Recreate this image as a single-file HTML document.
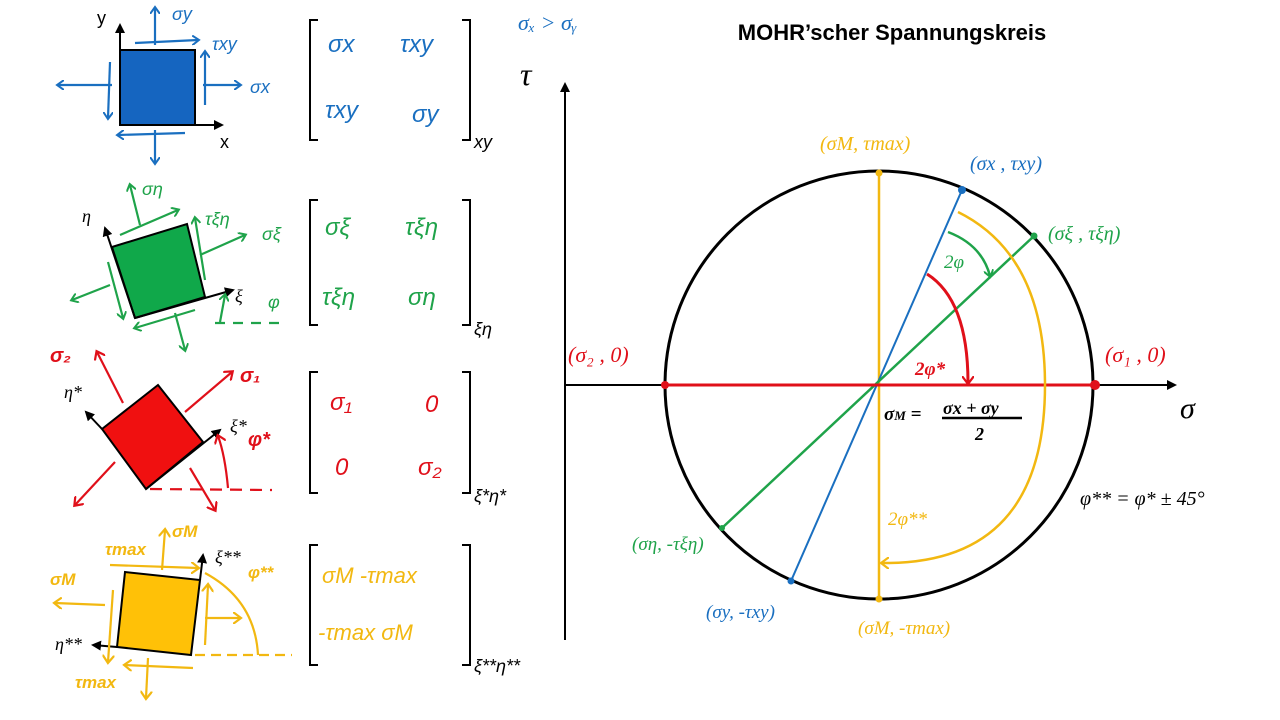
<!DOCTYPE html>
<html><head><meta charset="utf-8"><style>
html,body{margin:0;padding:0;background:#fff}
svg{display:block}
text{font-family:"Liberation Sans",sans-serif}
.hw{font-family:"Liberation Serif",serif;font-style:italic}
</style></head><body>
<svg width="1280" height="720" viewBox="0 0 1280 720" xmlns="http://www.w3.org/2000/svg">
<defs>
<marker id="ak" markerWidth="10" markerHeight="10" refX="8" refY="5" orient="auto" markerUnits="userSpaceOnUse"><path d="M0,0 L10,5 L0,10 z" fill="#000"/></marker>
<marker id="ab" markerWidth="10" markerHeight="10" refX="6" refY="5" orient="auto" markerUnits="userSpaceOnUse"><path d="M0,0 L7,5 L0,10" fill="none" stroke="#1a6fc0" stroke-width="2"/></marker>
<marker id="ag" markerWidth="10" markerHeight="10" refX="6" refY="5" orient="auto" markerUnits="userSpaceOnUse"><path d="M0,0 L7,5 L0,10" fill="none" stroke="#1fa34a" stroke-width="2"/></marker>
<marker id="ar" markerWidth="12" markerHeight="12" refX="7" refY="6" orient="auto" markerUnits="userSpaceOnUse"><path d="M0,0 L8,6 L0,12" fill="none" stroke="#e0101a" stroke-width="2.2"/></marker>
<marker id="ay" markerWidth="12" markerHeight="12" refX="7" refY="6" orient="auto" markerUnits="userSpaceOnUse"><path d="M0,0 L8,6 L0,12" fill="none" stroke="#f2b811" stroke-width="2.2"/></marker>
</defs>

<text x="892" y="40" font-size="22" font-weight="bold" text-anchor="middle">MOHR’scher Spannungskreis</text>
<text x="518" y="30" font-size="22" fill="#1a6fc0" class="hw">σₓ &gt; σᵧ</text>
<line x1="565" y1="640" x2="565" y2="84" stroke="#000" stroke-width="2" marker-end="url(#ak)"/>
<line x1="565" y1="385" x2="1175" y2="385" stroke="#000" stroke-width="2" marker-end="url(#ak)"/>
<text x="520" y="85" font-size="32" class="hw">τ</text>
<text x="1180" y="418" font-size="30" class="hw">σ</text>
<circle cx="879" cy="385" r="214" fill="none" stroke="#000" stroke-width="3"/>
<line x1="879" y1="171" x2="879" y2="600" stroke="#f2b811" stroke-width="2.5"/>
<line x1="962" y1="190" x2="791" y2="581" stroke="#1a6fc0" stroke-width="2"/>
<line x1="1034" y1="236" x2="722" y2="528" stroke="#1fa34a" stroke-width="2.5"/>
<line x1="665" y1="385" x2="1093" y2="385" stroke="#e0101a" stroke-width="3"/>
<circle cx="665" cy="385" r="4" fill="#e0101a"/><circle cx="1095" cy="385" r="5" fill="#e0101a"/>
<circle cx="962" cy="190" r="4" fill="#1a6fc0"/><circle cx="791" cy="581" r="3.5" fill="#1a6fc0"/>
<circle cx="1034" cy="236" r="3.5" fill="#1fa34a"/><circle cx="722" cy="528" r="3" fill="#1fa34a"/>
<circle cx="879" cy="173" r="3.5" fill="#f2b811"/><circle cx="879" cy="599" r="3.5" fill="#f2b811"/>
<path d="M958,212 Q1045,255 1045,385 Q1045,565 882,563" fill="none" stroke="#f2b811" stroke-width="2.5" marker-end="url(#ay)"/>
<path d="M927,274 Q968,300 968,383" fill="none" stroke="#e0101a" stroke-width="3" marker-end="url(#ar)"/>
<path d="M948,232 Q982,245 990,276" fill="none" stroke="#1fa34a" stroke-width="2.5" marker-end="url(#ag)"/>
<text x="944" y="268" font-size="19" fill="#1fa34a" class="hw">2φ</text>
<text x="915" y="375" font-size="19" fill="#e0101a" class="hw" font-weight="bold">2φ*</text>
<text x="888" y="525" font-size="19" fill="#f2b811" class="hw">2φ**</text>
<text x="884" y="420" font-size="19" class="hw" font-weight="bold">σ<tspan font-size="13">M</tspan> =</text>
<text x="943" y="414" font-size="18" class="hw" font-weight="bold">σx + σy</text>
<line x1="942" y1="418" x2="1022" y2="418" stroke="#000" stroke-width="2.5"/>
<text x="975" y="440" font-size="18" class="hw" font-weight="bold">2</text>
<text x="1080" y="505" font-size="20" class="hw">φ** = φ* ± 45°</text>
<text x="820" y="150" font-size="20" fill="#f2b811" class="hw">(σM, τmax)</text>
<text x="970" y="170" font-size="20" fill="#1a6fc0" class="hw">(σx , τxy)</text>
<text x="1048" y="240" font-size="20" fill="#1fa34a" class="hw">(σξ , τξη)</text>
<text x="568" y="362" font-size="22" fill="#e0101a" class="hw">(σ₂ , 0)</text>
<text x="1105" y="362" font-size="22" fill="#e0101a" class="hw">(σ₁ , 0)</text>
<text x="632" y="550" font-size="19" fill="#1fa34a" class="hw">(ση, -τξη)</text>
<text x="706" y="618" font-size="19" fill="#1a6fc0" class="hw">(σy, -τxy)</text>
<text x="858" y="634" font-size="19" fill="#f2b811" class="hw">(σM, -τmax)</text>

<g fill="none" stroke="#000" stroke-width="2">
<path d="M318,20 H310 V140 H318 M462,20 H470 V140 H462"/>
<path d="M318,200 H310 V325 H318 M462,200 H470 V325 H462"/>
<path d="M318,372 H310 V493 H318 M462,372 H470 V493 H462"/>
<path d="M318,545 H310 V665 H318 M462,545 H470 V665 H462"/>
</g>
<g font-size="24" class="hw">
<text x="328" y="52" fill="#1a6fc0">σx</text><text x="400" y="52" fill="#1a6fc0">τxy</text>
<text x="325" y="118" fill="#1a6fc0">τxy</text><text x="412" y="122" fill="#1a6fc0">σy</text>
<text x="325" y="235" fill="#1fa34a">σξ</text><text x="405" y="235" fill="#1fa34a">τξη</text>
<text x="322" y="305" fill="#1fa34a">τξη</text><text x="408" y="305" fill="#1fa34a">ση</text>
<text x="330" y="410" fill="#e0101a">σ₁</text><text x="425" y="412" fill="#e0101a">0</text>
<text x="335" y="475" fill="#e0101a">0</text><text x="418" y="475" fill="#e0101a">σ₂</text>
<text x="322" y="583" fill="#f2b811" font-size="22">σM   -τmax</text>
<text x="318" y="640" fill="#f2b811" font-size="22">-τmax  σM</text>
</g>
<g font-size="18" class="hw">
<text x="474" y="148">xy</text><text x="474" y="335">ξη</text>
<text x="474" y="502">ξ*η*</text><text x="474" y="672">ξ**η**</text>
</g>

<rect x="120" y="50" width="75" height="75" fill="#1565c0" stroke="#000" stroke-width="2"/>
<line x1="120" y1="125" x2="120" y2="25" stroke="#000" stroke-width="2" marker-end="url(#ak)"/>
<line x1="120" y1="125" x2="222" y2="125" stroke="#000" stroke-width="2" marker-end="url(#ak)"/>
<text x="97" y="24" font-size="18">y</text><text x="220" y="148" font-size="18">x</text>
<g stroke="#1a6fc0" stroke-width="2.2" fill="none">
<line x1="155" y1="45" x2="155" y2="8" marker-end="url(#ab)"/>
<line x1="135" y1="43" x2="198" y2="40" marker-end="url(#ab)"/>
<line x1="203" y1="85" x2="240" y2="85" marker-end="url(#ab)"/>
<line x1="205" y1="105" x2="205" y2="52" marker-end="url(#ab)"/>
<line x1="112" y1="85" x2="58" y2="85" marker-end="url(#ab)"/>
<line x1="110" y1="62" x2="108" y2="118" marker-end="url(#ab)"/>
<line x1="155" y1="130" x2="155" y2="163" marker-end="url(#ab)"/>
<line x1="185" y1="133" x2="118" y2="135" marker-end="url(#ab)"/>
</g>
<g fill="#1a6fc0" font-size="18" class="hw"><text x="172" y="20">σy</text><text x="212" y="50">τxy</text><text x="250" y="93">σx</text></g>

<polygon points="112,247 187,224 205,297 135,318" fill="#10a84a" stroke="#000" stroke-width="2"/>
<line x1="135" y1="318" x2="105" y2="228" stroke="#000" stroke-width="2" marker-end="url(#ak)"/>
<line x1="135" y1="318" x2="233" y2="290" stroke="#000" stroke-width="2" marker-end="url(#ak)"/>
<text x="82" y="222" font-size="18" class="hw">η</text><text x="235" y="302" font-size="18" class="hw">ξ</text>
<g stroke="#1fa34a" stroke-width="2.2" fill="none">
<line x1="140" y1="225" x2="130" y2="185" marker-end="url(#ag)"/>
<line x1="120" y1="235" x2="178" y2="210" marker-end="url(#ag)"/>
<line x1="200" y1="255" x2="245" y2="235" marker-end="url(#ag)"/>
<line x1="205" y1="280" x2="195" y2="218" marker-end="url(#ag)"/>
<line x1="110" y1="285" x2="72" y2="300" marker-end="url(#ag)"/>
<line x1="108" y1="262" x2="123" y2="318" marker-end="url(#ag)"/>
<line x1="175" y1="313" x2="185" y2="350" marker-end="url(#ag)"/>
<line x1="195" y1="310" x2="135" y2="328" marker-end="url(#ag)"/>
<line x1="220" y1="322" x2="225" y2="295" marker-end="url(#ag)"/>
<line x1="215" y1="323" x2="285" y2="323" stroke-dasharray="10,8"/>
</g>
<g fill="#1fa34a" font-size="18" class="hw"><text x="142" y="195">ση</text><text x="205" y="225">τξη</text><text x="262" y="240">σξ</text><text x="268" y="308">φ</text></g>

<polygon points="102,429 158,385 203,442 146,489" fill="#f01010" stroke="#000" stroke-width="2"/>
<line x1="146" y1="489" x2="220" y2="430" stroke="#000" stroke-width="2" marker-end="url(#ak)"/>
<line x1="102" y1="429" x2="86" y2="412" stroke="#000" stroke-width="2" marker-end="url(#ak)"/>
<text x="64" y="398" font-size="18" class="hw">η*</text><text x="230" y="432" font-size="18" class="hw">ξ*</text>
<g stroke="#e0101a" stroke-width="2.2" fill="none">
<line x1="123" y1="403" x2="97" y2="352" marker-end="url(#ar)"/>
<line x1="185" y1="412" x2="232" y2="372" marker-end="url(#ar)"/>
<line x1="115" y1="462" x2="75" y2="505" marker-end="url(#ar)"/>
<line x1="190" y1="468" x2="215" y2="510" marker-end="url(#ar)"/>
<path d="M228,488 Q225,455 218,436" marker-end="url(#ar)"/>
<line x1="150" y1="489" x2="272" y2="490" stroke-dasharray="12,8"/>
</g>
<g fill="#e0101a" font-size="20" class="hw" font-weight="bold"><text x="50" y="362">σ₂</text><text x="240" y="382">σ₁</text><text x="248" y="446">φ*</text></g>

<polygon points="125,572 200,580 191,655 117,647" fill="#ffc107" stroke="#000" stroke-width="2"/>
<line x1="200" y1="580" x2="203" y2="555" stroke="#000" stroke-width="2" marker-end="url(#ak)"/>
<line x1="117" y1="647" x2="93" y2="645" stroke="#000" stroke-width="2" marker-end="url(#ak)"/>
<text x="215" y="563" font-size="18" class="hw">ξ**</text><text x="55" y="650" font-size="18" class="hw">η**</text>
<g stroke="#f2b811" stroke-width="2.2" fill="none">
<line x1="162" y1="570" x2="165" y2="530" marker-end="url(#ay)"/>
<line x1="110" y1="565" x2="198" y2="568" marker-end="url(#ay)"/>
<line x1="105" y1="605" x2="55" y2="603" marker-end="url(#ay)"/>
<line x1="113" y1="590" x2="108" y2="662" marker-end="url(#ay)"/>
<line x1="205" y1="618" x2="240" y2="618" marker-end="url(#ay)"/>
<line x1="205" y1="645" x2="208" y2="585" marker-end="url(#ay)"/>
<line x1="148" y1="658" x2="146" y2="698" marker-end="url(#ay)"/>
<line x1="193" y1="668" x2="125" y2="665" marker-end="url(#ay)"/>
<path d="M258,655 Q255,600 205,573"/>
<line x1="195" y1="655" x2="292" y2="655" stroke-dasharray="10,6"/>
</g>
<g fill="#f2b811" font-size="17" class="hw" font-weight="bold"><text x="172" y="537">σM</text><text x="105" y="555">τmax</text><text x="50" y="585">σM</text><text x="75" y="688">τmax</text><text x="248" y="578">φ**</text></g>
</svg>
</body></html>
